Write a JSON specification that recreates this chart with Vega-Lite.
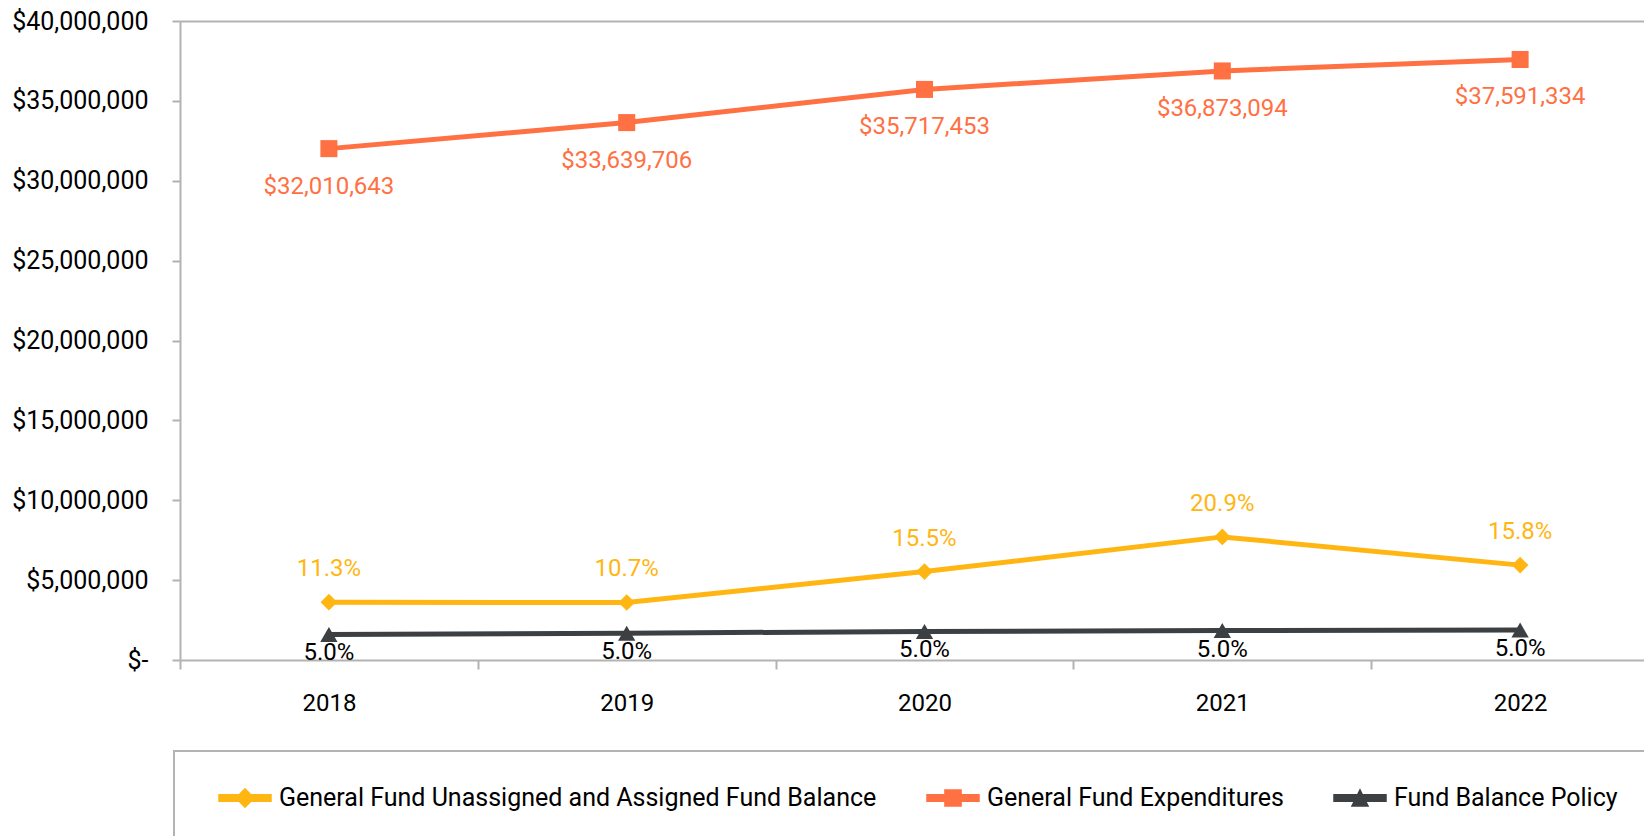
{
  "$schema": "https://vega.github.io/schema/vega-lite/v6.json",
  "width": 1464,
  "height": 639,
  "autosize": {"type": "none"},
  "padding": {"left": 180, "top": 21, "right": 0, "bottom": 176},
  "background": "white",
  "config": {"font": "Roboto", "view": {"stroke": null}, "axis": {"grid": false}},
  "data": {
    "values": [
      {"year": 2018, "series": "General Fund Unassigned and Assigned Fund Balance", "value": 3617203, "label": "11.3%"},
      {"year": 2019, "series": "General Fund Unassigned and Assigned Fund Balance", "value": 3599449, "label": "10.7%"},
      {"year": 2020, "series": "General Fund Unassigned and Assigned Fund Balance", "value": 5536205, "label": "15.5%"},
      {"year": 2021, "series": "General Fund Unassigned and Assigned Fund Balance", "value": 7706477, "label": "20.9%"},
      {"year": 2022, "series": "General Fund Unassigned and Assigned Fund Balance", "value": 5939431, "label": "15.8%"},
      {"year": 2018, "series": "General Fund Expenditures", "value": 32010643, "label": "$32,010,643"},
      {"year": 2019, "series": "General Fund Expenditures", "value": 33639706, "label": "$33,639,706"},
      {"year": 2020, "series": "General Fund Expenditures", "value": 35717453, "label": "$35,717,453"},
      {"year": 2021, "series": "General Fund Expenditures", "value": 36873094, "label": "$36,873,094"},
      {"year": 2022, "series": "General Fund Expenditures", "value": 37591334, "label": "$37,591,334"},
      {"year": 2018, "series": "Fund Balance Policy", "value": 1600532, "label": "5.0%"},
      {"year": 2019, "series": "Fund Balance Policy", "value": 1681985, "label": "5.0%"},
      {"year": 2020, "series": "Fund Balance Policy", "value": 1785873, "label": "5.0%"},
      {"year": 2021, "series": "Fund Balance Policy", "value": 1843655, "label": "5.0%"},
      {"year": 2022, "series": "Fund Balance Policy", "value": 1879567, "label": "5.0%"}
    ]
  },
  "resolve": {"axis": {"x": "independent"}},
  "layer": [
    {
      "mark": {"type": "line", "strokeWidth": 5},
      "encoding": {
        "x": {
          "field": "year", "type": "quantitative",
          "scale": {"domain": [2017.5, 2022.416], "nice": false, "zero": false},
          "axis": {
            "title": null,
            "values": [2017.5, 2018.5, 2019.5, 2020.5, 2021.5],
            "labelExpr": "format(datum.value + 0.5, 'd')",
            "labelOffset": 148.9,
            "labelFontSize": 24,
            "labelFont": "Roboto",
            "labelColor": "#000000",
            "labelPadding": 22,
            "labelOverlap": false,
            "labelBound": false,
            "labelFlush": false,
            "tickSize": 9,
            "tickWidth": 2,
            "tickColor": "#B3B3B3",
            "domainColor": "#B3B3B3",
            "domainWidth": 2,
            "grid": false
          }
        },
        "y": {
          "field": "value", "type": "quantitative",
          "scale": {"domain": [0, 40000000], "nice": false, "zero": true},
          "axis": {
            "title": null,
            "orient": "left",
            "values": [0, 5000000, 10000000, 15000000, 20000000, 25000000, 30000000, 35000000, 40000000],
            "labelExpr": "datum.value == 0 ? '$-' : '$' + format(datum.value, ',')",
            "labelFontSize": 25,
            "labelFont": "Roboto",
            "labelColor": "#000000",
            "labelPadding": 24,
            "labelOverlap": false,
            "labelBound": false,
            "labelFlush": false,
            "tickSize": 8,
            "tickWidth": 2,
            "tickColor": "#B3B3B3",
            "domainColor": "#B3B3B3",
            "domainWidth": 2,
            "grid": false
          }
        },
        "color": {
          "field": "series", "type": "nominal",
          "scale": {
            "domain": ["General Fund Unassigned and Assigned Fund Balance", "General Fund Expenditures", "Fund Balance Policy"],
            "range": ["#FFB612", "#FF7043", "#3C4043"]
          },
          "legend": {
            "title": " ",
            "titleOrient": "right",
            "titleFontSize": 80,
            "titlePadding": 100,
            "orient": "none",
            "direction": "horizontal",
            "legendX": -6,
            "legendY": 730,
            "padding": 20,
            "strokeColor": "#B3B3B3",
            "symbolSize": 2704,
            "symbolOffset": 24,
            "labelOffset": 7,
            "columnPadding": 25,
            "labelFontSize": 25,
            "labelFont": "Roboto",
            "labelColor": "#000000",
            "labelLimit": 2000,
            "encode": {
              "legend": {"update": {"strokeWidth": {"value": 2}}},
              "symbols": {
                "update": {
                  "shape": {"signal": "datum.value == 'General Fund Expenditures' ? 'M-1,-0.125L-0.31,-0.125L-0.31,-0.31L0.31,-0.31L0.31,-0.125L1,-0.125L1,0.125L0.31,0.125L0.31,0.31L-0.31,0.31L-0.31,0.125L-1,0.125Z' : datum.value == 'Fund Balance Policy' ? 'M-1,-0.125L-0.093,-0.125L0,-0.31L0.093,-0.125L1,-0.125L1,0.125L0.217,0.125L0.31,0.31L-0.31,0.31L-0.217,0.125L-1,0.125Z' : 'M-1,-0.125L-0.225,-0.125L0,-0.35L0.225,-0.125L1,-0.125L1,0.125L0.225,0.125L0,0.35L-0.225,0.125L-1,0.125Z'"},
                  "fill": {"signal": "datum.value == 'General Fund Expenditures' ? '#FF7043' : datum.value == 'Fund Balance Policy' ? '#3C4043' : '#FFB612'"},
                  "stroke": {"value": "transparent"},
                  "opacity": {"value": 1}
                }
              }
            }
          }
        }
      }
    },
    {
      "transform": [{"filter": "datum.series == 'General Fund Expenditures'"}],
      "mark": {"type": "point", "filled": true, "opacity": 1, "size": 290, "shape": "square", "color": "#FF7043"},
      "encoding": {
        "x": {
          "field": "year", "type": "quantitative",
          "axis": {"orient": "top", "title": null, "labels": false, "ticks": false, "domain": true, "domainColor": "#B3B3B3", "domainWidth": 2, "grid": false}
        },
        "y": {"field": "value", "type": "quantitative"}
      }
    },
    {
      "transform": [{"filter": "datum.series == 'General Fund Unassigned and Assigned Fund Balance'"}],
      "mark": {"type": "point", "filled": true, "opacity": 1, "size": 280, "shape": "diamond", "color": "#FFB612"},
      "encoding": {
        "x": {"field": "year", "type": "quantitative", "axis": null},
        "y": {"field": "value", "type": "quantitative"}
      }
    },
    {
      "transform": [{"filter": "datum.series == 'Fund Balance Policy'"}],
      "mark": {"type": "point", "filled": true, "opacity": 1, "size": 300, "shape": "triangle-up", "color": "#3C4043"},
      "encoding": {
        "x": {"field": "year", "type": "quantitative", "axis": null},
        "y": {"field": "value", "type": "quantitative"}
      }
    },
    {
      "transform": [{"filter": "datum.series == 'General Fund Expenditures'"}],
      "mark": {"type": "text", "dy": 38, "fontSize": 24, "font": "Roboto", "color": "#FF7043"},
      "encoding": {
        "x": {"field": "year", "type": "quantitative", "axis": null},
        "y": {"field": "value", "type": "quantitative"},
        "text": {"field": "label"}
      }
    },
    {
      "transform": [{"filter": "datum.series == 'General Fund Unassigned and Assigned Fund Balance'"}],
      "mark": {"type": "text", "dy": -33, "fontSize": 24, "font": "Roboto", "color": "#FFB612"},
      "encoding": {
        "x": {"field": "year", "type": "quantitative", "axis": null},
        "y": {"field": "value", "type": "quantitative"},
        "text": {"field": "label"}
      }
    },
    {
      "transform": [{"filter": "datum.series == 'Fund Balance Policy'"}],
      "mark": {"type": "text", "dy": 19, "fontSize": 24, "font": "Roboto", "color": "#000000"},
      "encoding": {
        "x": {"field": "year", "type": "quantitative", "axis": null},
        "y": {"field": "value", "type": "quantitative"},
        "text": {"field": "label"}
      }
    }
  ]
}
